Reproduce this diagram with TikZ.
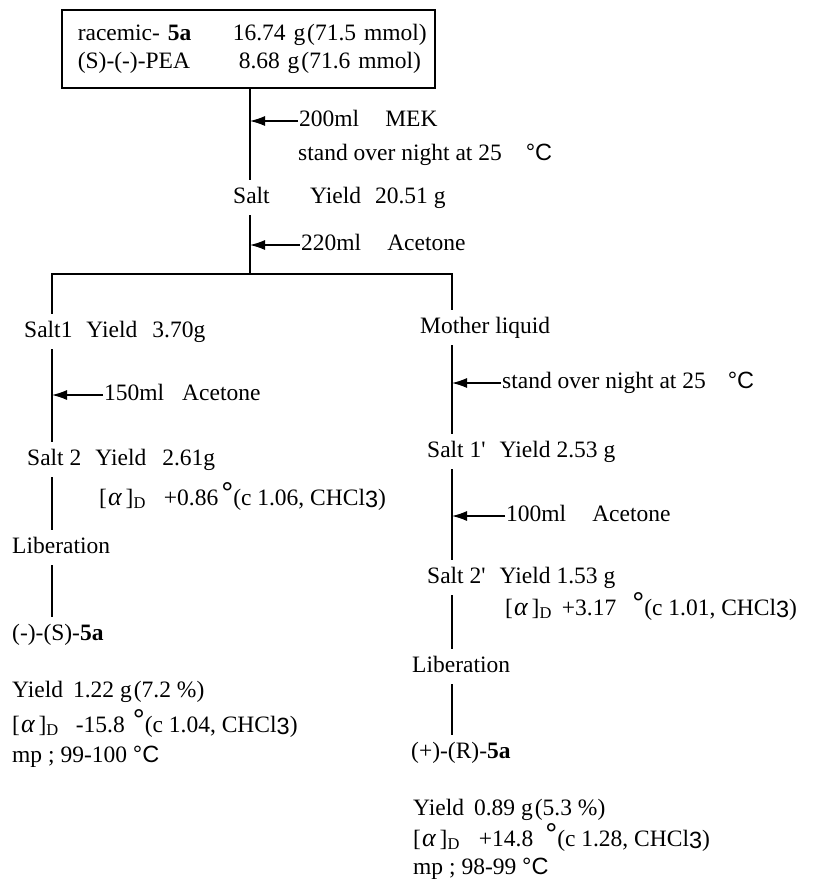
\documentclass[tikz,border=0pt]{standalone}
\usepackage{fontspec}
\setmainfont{Liberation Serif}
\newfontfamily\degfont{Liberation Sans}
\usetikzlibrary{positioning,arrows.meta}

\newcommand\alD{[\hspace{1pt}{\itshape\fontsize{26}{26}\selectfont α}\hspace{4pt}]\textsubscript{D}}
\newcommand\rdeg{\raisebox{2pt}{\fontsize{30}{30}\selectfont\degfont °}}
\newcommand\degC{{\degfont °C}}
\newcommand\chcl{CHCl\raisebox{-2pt}{\degfont 3}}
\newcommand\pr{\textquotesingle}

\begin{document}
\begin{tikzpicture}[
    x=1pt, y=-1pt,
    every node/.style={font=\fontsize{23.5}{28}\selectfont},
    txt/.style={inner xsep=0pt, inner ysep=7pt, text height=16pt, text depth=5pt,
                anchor=base west},
    lbl/.style={inner xsep=1pt, inner ysep=0pt, text height=16pt, text depth=5pt,
                anchor=west},
    batch/.style={draw, line width=1.6pt, anchor=north west,
                  minimum width=373pt, minimum height=78pt,
                  text width=341pt, inner xsep=16pt, align=left},
    flow/.style={line width=1.2pt},
    feed/.style={flow, -{Latex[length=15pt,width=10pt]}}
  ]
  \useasboundingbox (0,0) rectangle (813,892);
  \coordinate (L) at (52,0);
  \coordinate (M) at (250,0);
  \coordinate (R) at (452,0);
  \coordinate (fork) at (250,274);

  \node[batch] (start) at (61,9)
    {\mbox{\makebox[155pt][l]{racemic- \textbf{5a}}16.74 g\hspace{2pt}(71.5 mmol)}\\
     \mbox{\makebox[161pt][l]{(S)-(-)-PEA}8.68 g\hspace{2pt}(71.6 mmol)}};

  % resolution
  \node[lbl] (mek) at (298,121) {200ml\hspace{26pt}MEK};
  \node[txt] (stand1) at (298,160) {stand over night at 25\hspace{24pt}\degC};
  \node[txt] (salt) at (233,203) {Salt};
  \node[txt, right=40pt of salt] (yld0) {Yield\hspace{14pt}20.51 g};
  \node[lbl] (ace1) at (300,245) {220ml\hspace{26pt}Acetone};

  % crystals
  \node[txt] (salt1) at (24,337) {Salt1\hspace{14pt}Yield\hspace{15pt}3.70g};
  \node[lbl] (ace2) at (103,395) {150ml\hspace{18pt}Acetone};
  \node[txt] (salt2) at (27,465) {Salt 2\hspace{14pt}Yield\hspace{16pt}2.61g};
  \node[txt] (rot2) at (99,505) {\alD\hspace{18pt}+0.86\hspace{3pt}\rdeg(c 1.06, \chcl)};
  \node[txt] (libS) at (12,553) {Liberation};
  \node[txt] (prodS) at (12,640) {(-)-(S)-\textbf{5a}};
  \node[txt] (yldS) at (12,697) {Yield\hspace{10pt}1.22 g\hspace{2pt}(7.2 \%)};
  \node[txt] (rotS) at (12,732) {\alD\hspace{17pt}-15.8\hspace{8pt}\rdeg(c 1.04, \chcl)};
  \node[txt] (mpS) at (12,762) {mp ; 99-100 \degC};

  % mother liquid
  \node[txt] (ml) at (420,333) {Mother liquid};
  \node[lbl] (stand2) at (501,383) {stand over night at 25\hspace{22pt}\degC};
  \node[txt] (salt1p) at (427,457) {Salt 1\pr\hspace{14pt}Yield\hspace{6pt}2.53 g};
  \node[lbl] (ace3) at (505,516) {100ml\hspace{26pt}Acetone};
  \node[txt] (salt2p) at (427,583) {Salt 2\pr\hspace{14pt}Yield\hspace{6pt}1.53 g};
  \node[txt] (rot2p) at (505,615) {\alD\hspace{10pt}+3.17\hspace{16pt}\rdeg(c 1.01, \chcl)};
  \node[txt] (libR) at (412,672) {Liberation};
  \node[txt] (prodR) at (411,758) {(+)-(R)-\textbf{5a}};
  \node[txt] (yldR) at (413,815) {Yield\hspace{10pt}0.89 g\hspace{2pt}(5.3 \%)};
  \node[txt] (rotR) at (413,846) {\alD\hspace{19pt}+14.8\hspace{12pt}\rdeg(c 1.28, \chcl)};
  \node[txt] (mpR) at (413,874) {mp ; 98-99 \degC};

  \draw[flow] (start.south -| M) -- (salt.north -| M);
  \draw[feed] (mek.west) -- (mek.west -| M);
  \draw[flow] (salt.south -| M) -- (fork);
  \draw[feed] (ace1.west) -- (ace1.west -| M);
  \draw[flow] (salt1.north -| L) |- (fork) -| (ml.north -| R);

  \draw[flow] (salt1.south -| L) -- (salt2.north -| L);
  \draw[feed] (ace2.west) -- (ace2.west -| L);
  \draw[flow] (salt2.south -| L) -- (libS.north -| L);
  \draw[flow] (libS.south -| L) -- (prodS.north -| L);

  \draw[flow] (ml.south -| R) -- (salt1p.north -| R);
  \draw[feed] (stand2.west) -- (stand2.west -| R);
  \draw[flow] (salt1p.south -| R) -- (salt2p.north -| R);
  \draw[feed] (ace3.west) -- (ace3.west -| R);
  \draw[flow] (salt2p.south -| R) -- (libR.north -| R);
  \draw[flow] (libR.south -| R) -- (prodR.north -| R);
\end{tikzpicture}
\end{document}
